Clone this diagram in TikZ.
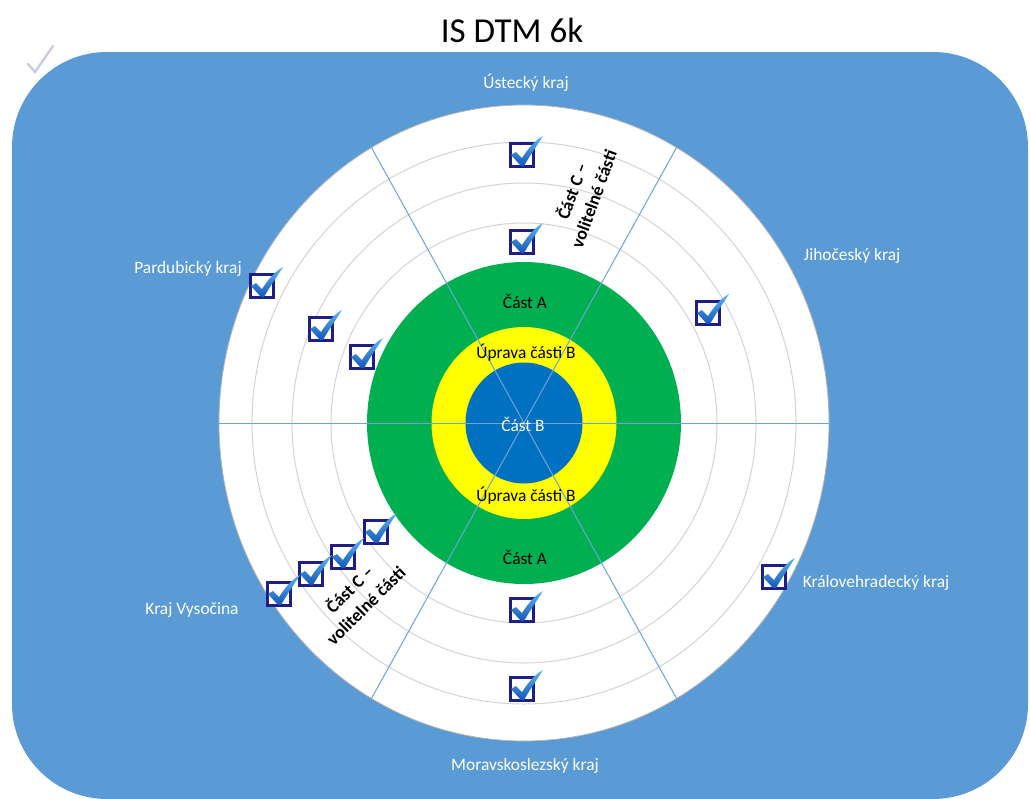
\documentclass[tikz,border=0pt]{standalone}
\usepackage{fontspec}
\setmainfont{Carlito}
\usetikzlibrary{positioning}

\definecolor{bgblue}{HTML}{5B9BD5}
\definecolor{ringgray}{HTML}{D4D4D4}
\definecolor{spokeblue}{HTML}{6FA3D8}
\definecolor{partgreen}{HTML}{00B050}
\definecolor{partyellow}{HTML}{FFFF00}
\definecolor{partblue}{HTML}{0070C0}
\definecolor{boxnavy}{HTML}{1E1E84}
\definecolor{chklight}{HTML}{5CB4F2}
\definecolor{chkdark}{HTML}{1458B8}
\definecolor{faintchk}{HTML}{C8CEE0}

\tikzset{
	region/.style={text=white, font=\fontsize{8.7}{10}\selectfont},
	part/.style={text=black, font=\fontsize{8.7}{10}\selectfont, inner sep=0pt},
	optpart/.style={text=black, font=\bfseries\fontsize{9}{11.5}\selectfont, align=center, inner sep=0pt},
	ring/.style={draw=ringgray, line width=0.5pt},
	spoke/.style={draw=spokeblue, line width=0.5pt},
	chkbox/.pic={
		\fill[white] (-12,-12) rectangle (12,12);
		\draw[boxnavy, line width=1.5pt] (-11.5,-11.5) rectangle (11.5,11.5);
		\shade[top color=chklight, bottom color=chkdark] (-11,0) -- (-6,-3) -- (0,3)
		.. controls (6,-6) and (12,-14) .. (21,-19)
		.. controls (14,-8) and (7,2) .. (2,11) -- (-1,11) -- cycle;
	}
}

\begin{document}
\begin{tikzpicture}[x=0.5pt,y=-0.5pt]
	\path[use as bounding box] (0,0) rectangle (1030,799);
	\clip (0,0) rectangle (1030,799); % page edge
	
	\coordinate (c) at (524,423);
	
	\fill[bgblue, rounded corners=47.5pt] (12,52) rectangle (1028,799);
	\draw[faintchk, line width=1.2pt, line cap=round] (28,64) -- (35,72) -- (53,46);
	
	% the disc and its rings
	\fill[white] (c) circle[x radius=305, y radius=318];
	\draw[black!30, line width=0.4pt] (c) circle[x radius=305, y radius=318];
	\foreach \rx/\ry in {272/281,232/240,193/200}{%
		\draw[ring] (c) circle[x radius=\rx, y radius=\ry];
	}
	\fill[partgreen] (c) circle[x radius=157, y radius=161];
	\fill[partyellow] (c) circle[x radius=92.5, y radius=96];
	\fill[partblue] (c) circle[x radius=58.5, y radius=60.5];
	\foreach \a in {0,60,120}{% one diameter for each pair of sectors
		\draw[spoke, shift={(c)}] (\a:305 and 318) -- (\a+180:305 and 318);
	}
	
	\node (title) at (512,30) {\fontsize{17.5}{20}\selectfont IS DTM 6k};
	\node[region] (ustecky) at (526,83) {Ústecký kraj};
	\node[region] (jihocesky) at (852,256) {Jihočeský kraj};
	\node[region] (pardubicky) at (188,269) {Pardubický kraj};
	\node[region] (vysocina) at (192,610) {Kraj Vysočina};
	\node[region] (kralovehradecky) at (876,583) {Královehradecký kraj};
	\node[region] (moravskoslezsky) at (525,766) {Moravskoslezský kraj};
	
	\node[part] (castAtop) at (525,301) {Část A};
	\node[part] (castAbot) at (525,557) {Část A};
	\node[part] (upravatop) at (526,353) {Úprava části B};
	\node[part] (upravabot) at (526,496) {Úprava části B};
	\node[part, text=white] (castB) at (523,424) {Část B};
	\node[optpart, rotate=70] (castCtop) at (582,195) {Část C –\\volitelné části};
	\node[optpart, rotate=45] (castCbot) at (357,597) {Část C –\\volitelné části};
	
	\foreach \x/\y in {522/155,522/242,262/286,321/329,362/357,708/313,
		376/532,343/557,311/574,279/594,774/577,522/610,522/689}{%
		\pic at (\x,\y) {chkbox};
	}
\end{tikzpicture}
\end{document}
